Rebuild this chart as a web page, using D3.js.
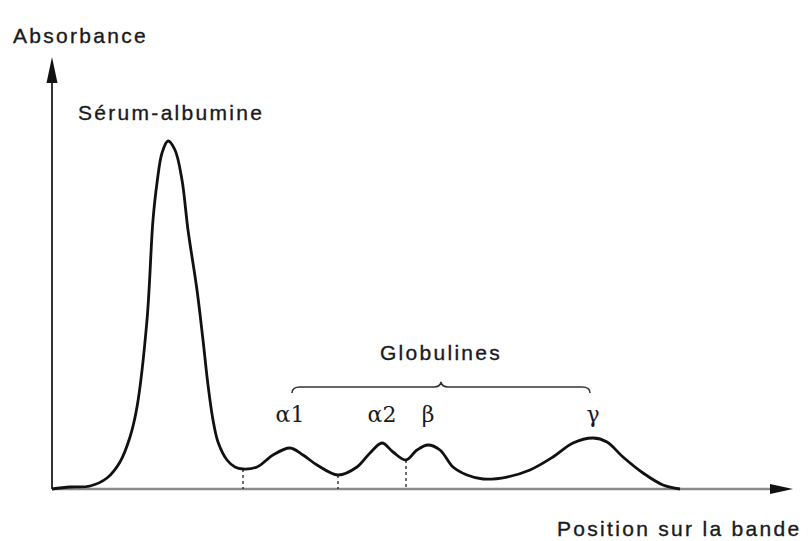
<!DOCTYPE html>
<html>
<head>
<meta charset="utf-8">
<script src="https://cdn.jsdelivr.net/npm/d3@7"></script>
<style>
  html, body { margin: 0; padding: 0; background: #fff; }
  svg { display: block; }
  .lbl { font-family: "Liberation Sans", Arial, sans-serif; font-size: 21px; fill: #1a1a1a; stroke: #1a1a1a; stroke-width: 0.35px; letter-spacing: 2.3px; }
  .greek { font-family: "DejaVu Serif", "Liberation Serif", serif; font-size: 22px; fill: #1a1a1a; }
</style>
</head>
<body>
<svg id="chart" width="810" height="541"></svg>
<script>
// Densitometric trace of a serum protein electrophoresis strip
// position along the strip (arbitrary units)
const positions = [
  0, 1.8, 3.8, 5.5, 6.8, 7.8, 8.5, 9.5, 10.1, 10.5, 11.0, 11.6, 12.3, 13.0,
  13.6, 14.5, 15.1, 15.6, 16.1, 16.6, 17.5, 18.3, 19.1, 20.5, 22.1, 23.8, 25.1,
  26.5, 28.6, 30.5, 31.8, 33.0, 34.1, 35.4, 36.5, 37.6, 38.8, 40.1, 41.5, 43.1,
  45.5, 47.8, 50.1, 52.1, 54.1, 55.5, 57.1, 59.1, 61.1, 62.8
];
// absorbance read along the strip (arbitrary units)
const absorbance = [
  0, 0.2, 0.3, 1.1, 2.7, 5.2, 8.2, 16.9, 26.9, 30.6, 33.6, 34.8, 33.9, 30.9,
  25.9, 19.9, 14.9, 10.4, 6.9, 4.7, 2.9, 2.2, 2.0, 2.2, 3.4, 4.1, 3.4,
  2.4, 1.4, 2.2, 3.6, 4.6, 3.7, 2.9, 3.9, 4.4, 3.9, 2.2, 1.4, 1.0,
  1.2, 1.9, 3.2, 4.6, 5.1, 4.7, 3.2, 1.6, 0.4, 0
];
// globulin fractions and the position of their maxima
const fractionLabels = ["α1", "α2", "β", "γ"];
const fractionPeaks = [23.8, 33.0, 37.6, 54.1];
// boundaries between fractions (minima of the trace)
const boundaries = [19.1, 28.6, 35.4];
// text
const yTitle = "Absorbance";
const xTitle = "Position sur la bande";
const albuminLabel = "Sérum-albumine";
const globulinLabel = "Globulines";

const svg = d3.select("#chart");

const x = d3.scaleLinear().domain([0, 74.1]).range([52, 793]);
const y = d3.scaleLinear().domain([0, 43.2]).range([489, 57]);

// x axis: grey baseline with a filled arrow head
svg.append("line")
  .attr("x1", x(0)).attr("x2", x(72)).attr("y1", y(0)).attr("y2", y(0))
  .attr("stroke", "#8a8a8a").attr("stroke-width", 2.5);
svg.append("path")
  .attr("d", `M${x(74.1)},${y(0)} L${x(71.8)},${y(0) - 5} L${x(71.8)},${y(0) + 5} Z`)
  .attr("fill", "#111");

// y axis with arrow head
svg.append("line")
  .attr("x1", x(0)).attr("x2", x(0)).attr("y1", y(0)).attr("y2", y(41))
  .attr("stroke", "#333").attr("stroke-width", 2);
svg.append("path")
  .attr("d", `M${x(0)},${y(43.2)} L${x(0) - 5.5},${y(40.6)} L${x(0) + 5.5},${y(40.6)} Z`)
  .attr("fill", "#111");

// boundaries dropped from the minima to the baseline
const pts = positions.map((p, i) => ({ p, a: absorbance[i] }));
const valueAt = p => pts.find(d => Math.abs(d.p - p) < 1e-9).a;
svg.selectAll("line.boundary")
  .data(boundaries)
  .join("line")
  .attr("class", "boundary")
  .attr("x1", d => x(d)).attr("x2", d => x(d))
  .attr("y1", d => y(valueAt(d))).attr("y2", y(0))
  .attr("stroke", "#222").attr("stroke-width", 1.3)
  .attr("stroke-dasharray", "3,3");

// the trace
const line = d3.line()
  .x(d => x(d.p))
  .y(d => y(d.a))
  .curve(d3.curveCatmullRom.alpha(0.5));
svg.append("path")
  .datum(pts)
  .attr("d", line)
  .attr("fill", "none")
  .attr("stroke", "#111")
  .attr("stroke-width", 2.8)
  .attr("stroke-linejoin", "round");

// fraction labels
svg.selectAll("text.greek")
  .data(fractionLabels)
  .join("text")
  .attr("class", "greek")
  .attr("x", (d, i) => x(fractionPeaks[i]))
  .attr("y", y(6.7))
  .attr("text-anchor", "middle")
  .text(d => d);

// brace grouping the globulins
const bx0 = x(fractionPeaks[0]) + 2, bx1 = x(fractionPeaks[3]) - 3;
const bm = (bx0 + bx1) / 2;
const by = y(10.2);
svg.append("path")
  .attr("d", `M${bx0},${by + 6} Q${bx0},${by} ${bx0 + 8},${by} L${bm - 7},${by} Q${bm - 1},${by} ${bm},${by - 5} Q${bm + 1},${by} ${bm + 7},${by} L${bx1 - 8},${by} Q${bx1},${by} ${bx1},${by + 6}`)
  .attr("fill", "none").attr("stroke", "#333").attr("stroke-width", 1.5);

// titles and labels
svg.append("text").attr("class", "lbl").attr("x", 13).attr("y", 43).text(yTitle);
svg.append("text").attr("class", "lbl").attr("x", 78).attr("y", 120).text(albuminLabel);
svg.append("text").attr("class", "lbl").attr("x", bm).attr("y", 360)
  .attr("text-anchor", "middle").text(globulinLabel);
svg.append("text").attr("class", "lbl").attr("x", 557).attr("y", 536).text(xTitle);
</script>
</body>
</html>
